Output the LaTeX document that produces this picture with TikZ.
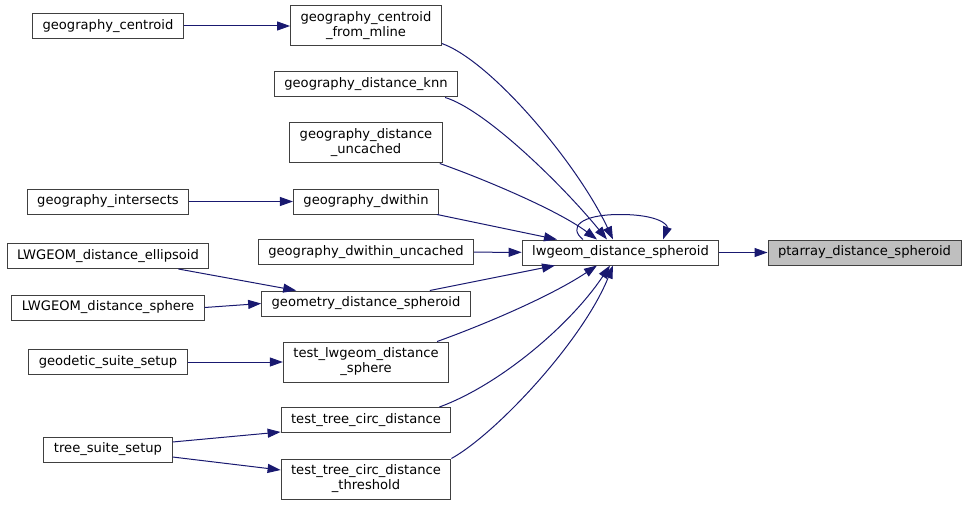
\documentclass[tikz,border=0pt]{standalone}
\usepackage{fontspec}
\setmainfont{DejaVu Sans}
\usepackage{xcolor}
\usepackage{tikz}
\usetikzlibrary{arrows.meta}
\definecolor{midnightblue}{HTML}{191970}
\definecolor{boxgray}{HTML}{404040}
\definecolor{hlgray}{HTML}{BFBFBF}
\tikzset{
  fnnode/.style = {rectangle, draw=boxgray, fill=white, line width=1pt,
    inner xsep=10pt, inner ysep=0pt, minimum height=25pt, align=center,
    font=\fontsize{13.1}{15}\selectfont},% fonction
  fnnode2/.style = {fnnode, minimum height=40pt},% fonction, deux lignes
  fnnode_h/.style = {fnnode, fill=hlgray},% fonction courante
  calls/.style = {->, draw=midnightblue, line width=1pt}
}

\begin{document}
\begin{tikzpicture}[x=1pt,y=-1pt,>={Triangle[length=13pt,width=9pt]}]
\useasboundingbox (0,0) rectangle (968,505);
% left column
\node [fnnode] (gc)   at (108,26)    {geography\_centroid};
\node [fnnode] (gi)   at (108,201.5) {geography\_intersects};
\node [fnnode] (lde)  at (108,256)   {LWGEOM\_distance\_ellipsoid};
\node [fnnode] (lds)  at (108,307.5) {LWGEOM\_distance\_sphere};
\node [fnnode] (gss)  at (108,362)   {geodetic\_suite\_setup};
\node [fnnode] (tss)  at (108,449.5) {tree\_suite\_setup};
% middle column
\node [fnnode2] (gcfm)  at (366,26)    {geography\_centroid\\\_from\_mline};
\node [fnnode]  (knn)   at (366,84.5)  {geography\_distance\_knn};
\node [fnnode2] (guc)   at (366,143)   {geography\_distance\\\_uncached};
\node [fnnode]  (dw)    at (366,201.5) {geography\_dwithin};
\node [fnnode]  (dwu)   at (366,252)   {geography\_dwithin\_uncached};
\node [fnnode]  (gds)   at (366,303.5) {geometry\_distance\_spheroid};
\node [fnnode2] (tlds)  at (366,362)   {test\_lwgeom\_distance\\\_sphere};
\node [fnnode]  (ttcd)  at (366,420)   {test\_tree\_circ\_distance};
\node [fnnode2] (ttcdt) at (366,479)   {test\_tree\_circ\_distance\\\_threshold};
% right
\node [fnnode]   (lw) at (620.5,252.5) {lwgeom\_distance\_spheroid};
\node [fnnode_h] (pt) at (864.5,252.5) {ptarray\_distance\_spheroid};

\draw [calls] (gc) -- (gcfm);
\draw [calls] (gi) -- (dw);
\draw [calls] ([xshift=-31pt]lde.south east) -- ([xshift=35pt]gds.north west);
\draw [calls] (lds.east) -- (gds.west);
\draw [calls] (gss) -- (tlds);
\draw [calls] ([yshift=7.5pt]tss.east) -- ([yshift=1pt]ttcd.south west);
\draw [calls] ([yshift=-7.5pt]tss.east) -- ([yshift=9pt]ttcdt.west);

\draw [calls] ([yshift=3pt]gcfm.south east)
  .. controls +(50,18) and +(-35,-75) .. ([xshift=-7.5pt]lw.north);
\draw [calls] ([xshift=-13pt]knn.south east)
  .. controls +(40,12) and +(-45,-55) .. ([xshift=-13.5pt]lw.north);
\draw [calls] ([xshift=-3pt]guc.south east)
  .. controls +(40,14) and +(-40,-30) .. ([xshift=-23.5pt]lw.north);
\draw [calls] ([xshift=-2pt]dw.south east) -- ([xshift=-63.5pt]lw.north);
\draw [calls] (dwu) -- (lw);
\draw [calls] ([xshift=-41pt]gds.north east) -- ([xshift=-65.5pt]lw.south);
\draw [calls] ([xshift=-12pt]tlds.north east)
  .. controls +(50,-18) and +(-45,30) .. ([xshift=-23.5pt]lw.south);
\draw [calls] ([xshift=-12pt]ttcd.north east)
  .. controls +(60,-22) and +(-40,60) .. ([xshift=-10.5pt]lw.south);
\draw [calls] (ttcdt.north east)
  .. controls +(45,-25) and +(-30,75) .. ([xshift=-7.5pt]lw.south);
% appel recursif
\draw [calls] ([xshift=-37.5pt]lw.north)
  .. controls +(-15,-12) and +(-40,0) .. ([xshift=-0.5pt,yshift=25pt]lw.north)
  .. controls +(40,0) and +(5,-14) .. ([xshift=42.5pt]lw.north);

\draw [calls] (lw) -- (pt);
\end{tikzpicture}
\end{document}
